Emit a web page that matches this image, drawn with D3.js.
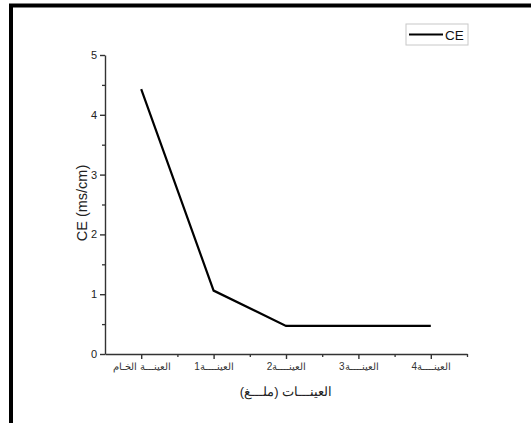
<!DOCTYPE html>
<html>
<head>
<meta charset="utf-8">
<script src="https://cdn.jsdelivr.net/npm/d3@7"></script>
<style>
  body { margin: 0; background: #fff; }
  svg { font-family: "Liberation Sans", Arial, sans-serif; }
</style>
</head>
<body>
<div id="chart"></div>
<script>
const samples = ["العينـــة الخـام", "العينــــة1", "العينــــة2", "العينــــة3", "العينــــة4"];
const ceValues = [4.43, 1.06, 0.47, 0.47, 0.47];
const yTicks = [0, 1, 2, 3, 4, 5];
const yMinorTicks = [0.5, 1.5, 2.5, 3.5, 4.5];

const width = 531, height = 423;

const svg = d3.select("#chart")
  .append("svg")
  .attr("width", width)
  .attr("height", height);

// frame (top + left only)
svg.append("path")
  .attr("d", "M11,423 L11,5.5 L531,5.5")
  .style("fill", "none")
  .style("stroke", "#000")
  .style("stroke-width", 4);

let x = d3.scalePoint().domain(samples).range([105, 467]).padding(0.5);
let xIdx = d3.scaleLinear().domain([-0.5, samples.length - 0.5]).range([105, 467]);
let y = d3.scaleLinear().domain([0, 5]).range([354, 55]);

// minor ticks
svg.append("g")
  .attr("transform", "translate(0,354)")
  .call(d3.axisBottom(xIdx).tickValues(d3.range(0.5, samples.length, 1)).tickFormat("").tickSize(3).tickSizeOuter(0))
  .call(g => g.select(".domain").remove())
  .call(g => g.selectAll("line").style("stroke", "#333").style("stroke-width", 1.3));

svg.append("g")
  .attr("transform", "translate(105,0)")
  .call(d3.axisLeft(y).tickValues(yMinorTicks).tickFormat("").tickSize(3).tickSizeOuter(0))
  .call(g => g.select(".domain").remove())
  .call(g => g.selectAll("line").style("stroke", "#333").style("stroke-width", 1.3));

// major axes
let xAxis = svg.append("g")
  .attr("class", "x axis")
  .attr("transform", "translate(0,354)")
  .call(d3.axisBottom(x).tickSize(5).tickSizeOuter(0).tickPadding(4));
xAxis.selectAll("text")
  .style("font-size", "10px")
  .style("fill", "#333")
  .attr("direction", "rtl");

let yAxis = svg.append("g")
  .attr("class", "y axis")
  .attr("transform", "translate(105,0)")
  .call(d3.axisLeft(y).tickValues(yTicks).tickFormat(d3.format("d")).tickSize(5).tickSizeOuter(0).tickPadding(3));
yAxis.selectAll("text")
  .style("font-size", "11px")
  .style("fill", "#222");

svg.selectAll(".axis .domain, .axis line")
  .style("stroke", "#333")
  .style("stroke-width", 1.4);

// axis titles
svg.append("text")
  .attr("transform", "translate(87,203) rotate(-90)")
  .attr("text-anchor", "middle")
  .style("font-size", "14.5px")
  .style("fill", "#222")
  .text("CE (ms/cm)");

svg.append("text")
  .attr("x", 286)
  .attr("y", 396)
  .attr("text-anchor", "middle")
  .attr("direction", "rtl")
  .style("font-size", "13px")
  .style("fill", "#222")
  .text("العينـــات (ملـــغ)");

// data line
let line = d3.line()
  .x((d, i) => x(samples[i]))
  .y(d => y(d));

svg.append("path")
  .datum(ceValues)
  .attr("d", line)
  .style("fill", "none")
  .style("stroke", "#000")
  .style("stroke-width", 2.2);

// legend
let legend = svg.append("g").attr("transform", "translate(406,24)");
legend.append("rect")
  .attr("width", 62)
  .attr("height", 21)
  .style("fill", "#fff")
  .style("stroke", "#c8c8c8");
legend.append("line")
  .attr("x1", 3).attr("x2", 37)
  .attr("y1", 10.5).attr("y2", 10.5)
  .style("stroke", "#000")
  .style("stroke-width", 2.2);
legend.append("text")
  .attr("x", 39)
  .attr("y", 15.5)
  .style("font-size", "13.5px")
  .style("fill", "#111")
  .text("CE");
</script>
</body>
</html>
